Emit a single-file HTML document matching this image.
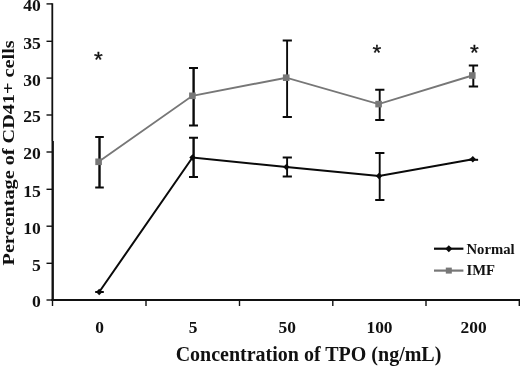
<!DOCTYPE html>
<html><head><meta charset="utf-8">
<style>
html,body{margin:0;padding:0;background:#fff;}
svg{display:block;}
text{font-family:"Liberation Serif",serif;font-weight:bold;fill:#111;}
</style></head><body>
<svg width="520" height="366" viewBox="0 0 520 366">
<rect width="520" height="366" fill="#fff"/>
<!-- axes -->
<g stroke="#111" stroke-width="2.1" fill="none">
<line x1="52.3" y1="3.2" x2="52.3" y2="141" stroke-width="1.8"/>
<line x1="52.7" y1="141" x2="52.7" y2="301" stroke-width="2.4"/>
<line x1="51.5" y1="300" x2="520" y2="300" stroke-width="2.1"/>
</g>
<g stroke="#111" stroke-width="1.4" fill="none">
<line x1="46.5" y1="3.9" x2="52" y2="3.9"/>
<line x1="46.5" y1="41.3" x2="52" y2="41.3"/>
<line x1="46.5" y1="78.1" x2="52" y2="78.1"/>
<line x1="46.5" y1="115" x2="52" y2="115"/>
<line x1="46.5" y1="152" x2="52" y2="152"/>
<line x1="46.5" y1="189.3" x2="52" y2="189.3"/>
<line x1="46.5" y1="226.2" x2="52" y2="226.2"/>
<line x1="46.5" y1="263.3" x2="52" y2="263.3"/>
<line x1="46.5" y1="300" x2="52" y2="300"/>
<line x1="52.5" y1="299" x2="52.5" y2="306"/>
<line x1="146" y1="299" x2="146" y2="306"/>
<line x1="239.5" y1="299" x2="239.5" y2="306"/>
<line x1="332.8" y1="299" x2="332.8" y2="306"/>
<line x1="426" y1="299" x2="426" y2="306"/>
<line x1="519.3" y1="299" x2="519.3" y2="306"/>
</g>
<!-- y tick labels -->
<g font-size="17.6" text-anchor="end">
<text x="40.8" y="11.3">40</text>
<text x="40.8" y="48.7">35</text>
<text x="40.8" y="85.5">30</text>
<text x="40.8" y="122.4">25</text>
<text x="40.8" y="159.4">20</text>
<text x="40.8" y="196.7">15</text>
<text x="40.8" y="233.6">10</text>
<text x="40.8" y="270.7">5</text>
<text x="40.8" y="307.4">0</text>
</g>
<!-- x tick labels -->
<g font-size="17.4" text-anchor="middle">
<text x="99.5" y="333">0</text>
<text x="193" y="333">5</text>
<text x="287.3" y="333">50</text>
<text x="379.5" y="333">100</text>
<text x="473.6" y="333">200</text>
</g>
<text x="308.5" y="361.2" font-size="20" text-anchor="middle">Concentration of TPO (ng/mL)</text>
<text transform="translate(13.7,152.9) rotate(-90) scale(1.15,1)" font-size="17.6" text-anchor="middle">Percentage of CD41+ cells</text>
<!-- asterisks -->
<g font-size="22.5" text-anchor="middle" stroke="#111" stroke-width="0.3">
<text x="98.5" y="67.4" style="font-family:'Liberation Sans',sans-serif;font-weight:normal">*</text>
<text x="376.9" y="60.2" style="font-family:'Liberation Sans',sans-serif;font-weight:normal">*</text>
<text x="474.4" y="60.2" style="font-family:'Liberation Sans',sans-serif;font-weight:normal">*</text>
</g>
<!-- error bars IMF -->
<g stroke="#0a0a0a" stroke-width="2" fill="none">
<path d="M99.5 136.9V187.5" stroke-width="2.4"/><path d="M95.2 136.9H103.8M95.2 187.5H103.8"/>
<path d="M193.6 68V125.4" stroke-width="2.4"/><path d="M189 68H198M189 125.4H198"/>
<path d="M287.1 40.6V116.9" stroke-width="1.9"/><path d="M282.7 40.6H291.9M282.7 116.9H291.9"/>
<path d="M379.7 89.8V120" stroke-width="1.9"/><path d="M375.2 89.8H384.4M375.2 120H384.4"/>
<path d="M473.3 65.6V86.5" stroke-width="2"/><path d="M468.8 65.6H478.1M468.8 86.5H478.1"/>
<path d="M95.2 292H103.8"/>
<path d="M193.6 137.7V177.1" stroke-width="2.4"/><path d="M189 137.7H198M189 177.1H198"/>
<path d="M287.1 157.6V176.5" stroke-width="1.9"/><path d="M282.7 157.6H291.9M282.7 176.5H291.9"/>
<path d="M379.7 153.1V200" stroke-width="1.9"/><path d="M375.2 153.1H384.4M375.2 200H384.4"/>
<path d="M468.8 159.8H478.1"/>
</g>
<!-- lines -->
<polyline points="98.6,161.8 192.4,95.8 286.2,77.7 378.6,104.1 472.3,75.5" fill="none" stroke="#777" stroke-width="1.9"/>
<polyline points="99.2,292 192.5,157.5 286.4,167 379,176 472.8,159.3" fill="none" stroke="#0a0a0a" stroke-width="2.0"/>
<g fill="#777">
<rect x="95.3" y="158.5" width="6.6" height="6.6"/>
<rect x="189.1" y="92.5" width="6.6" height="6.6"/>
<rect x="282.9" y="74.4" width="6.6" height="6.6"/>
<rect x="375.3" y="100.8" width="6.6" height="6.6"/>
<rect x="469" y="72.2" width="6.6" height="6.6"/>
</g>
<g fill="#0a0a0a">
<path d="M99.2 288.8L102.4 292L99.2 295.2L96 292Z"/>
<path d="M192.5 154.3L195.7 157.5L192.5 160.7L189.3 157.5Z"/>
<path d="M286.4 163.8L289.6 167L286.4 170.2L283.2 167Z"/>
<path d="M379 172.8L382.2 176L379 179.2L375.8 176Z"/>
<path d="M472.8 156.1L476 159.3L472.8 162.5L469.6 159.3Z"/>
</g>
<!-- legend -->
<line x1="434" y1="248.7" x2="463.4" y2="248.700" stroke="#0a0a0a" stroke-width="2.2"/>
<path d="M448.800 245.200L452.300 248.700L448.800 252.200L445.300 248.700Z" fill="#0a0a0a"/>
<line x1="434" y1="270.600" x2="463.4" y2="270.600" stroke="#777" stroke-width="2.2"/>
<rect x="445.800" y="267.600" width="6" height="6" fill="#777"/>
<text x="466.5" y="253.6" font-size="14.7">Normal</text>
<text x="466.5" y="275.2" font-size="14.7">IMF</text>
</svg>
</body></html>
